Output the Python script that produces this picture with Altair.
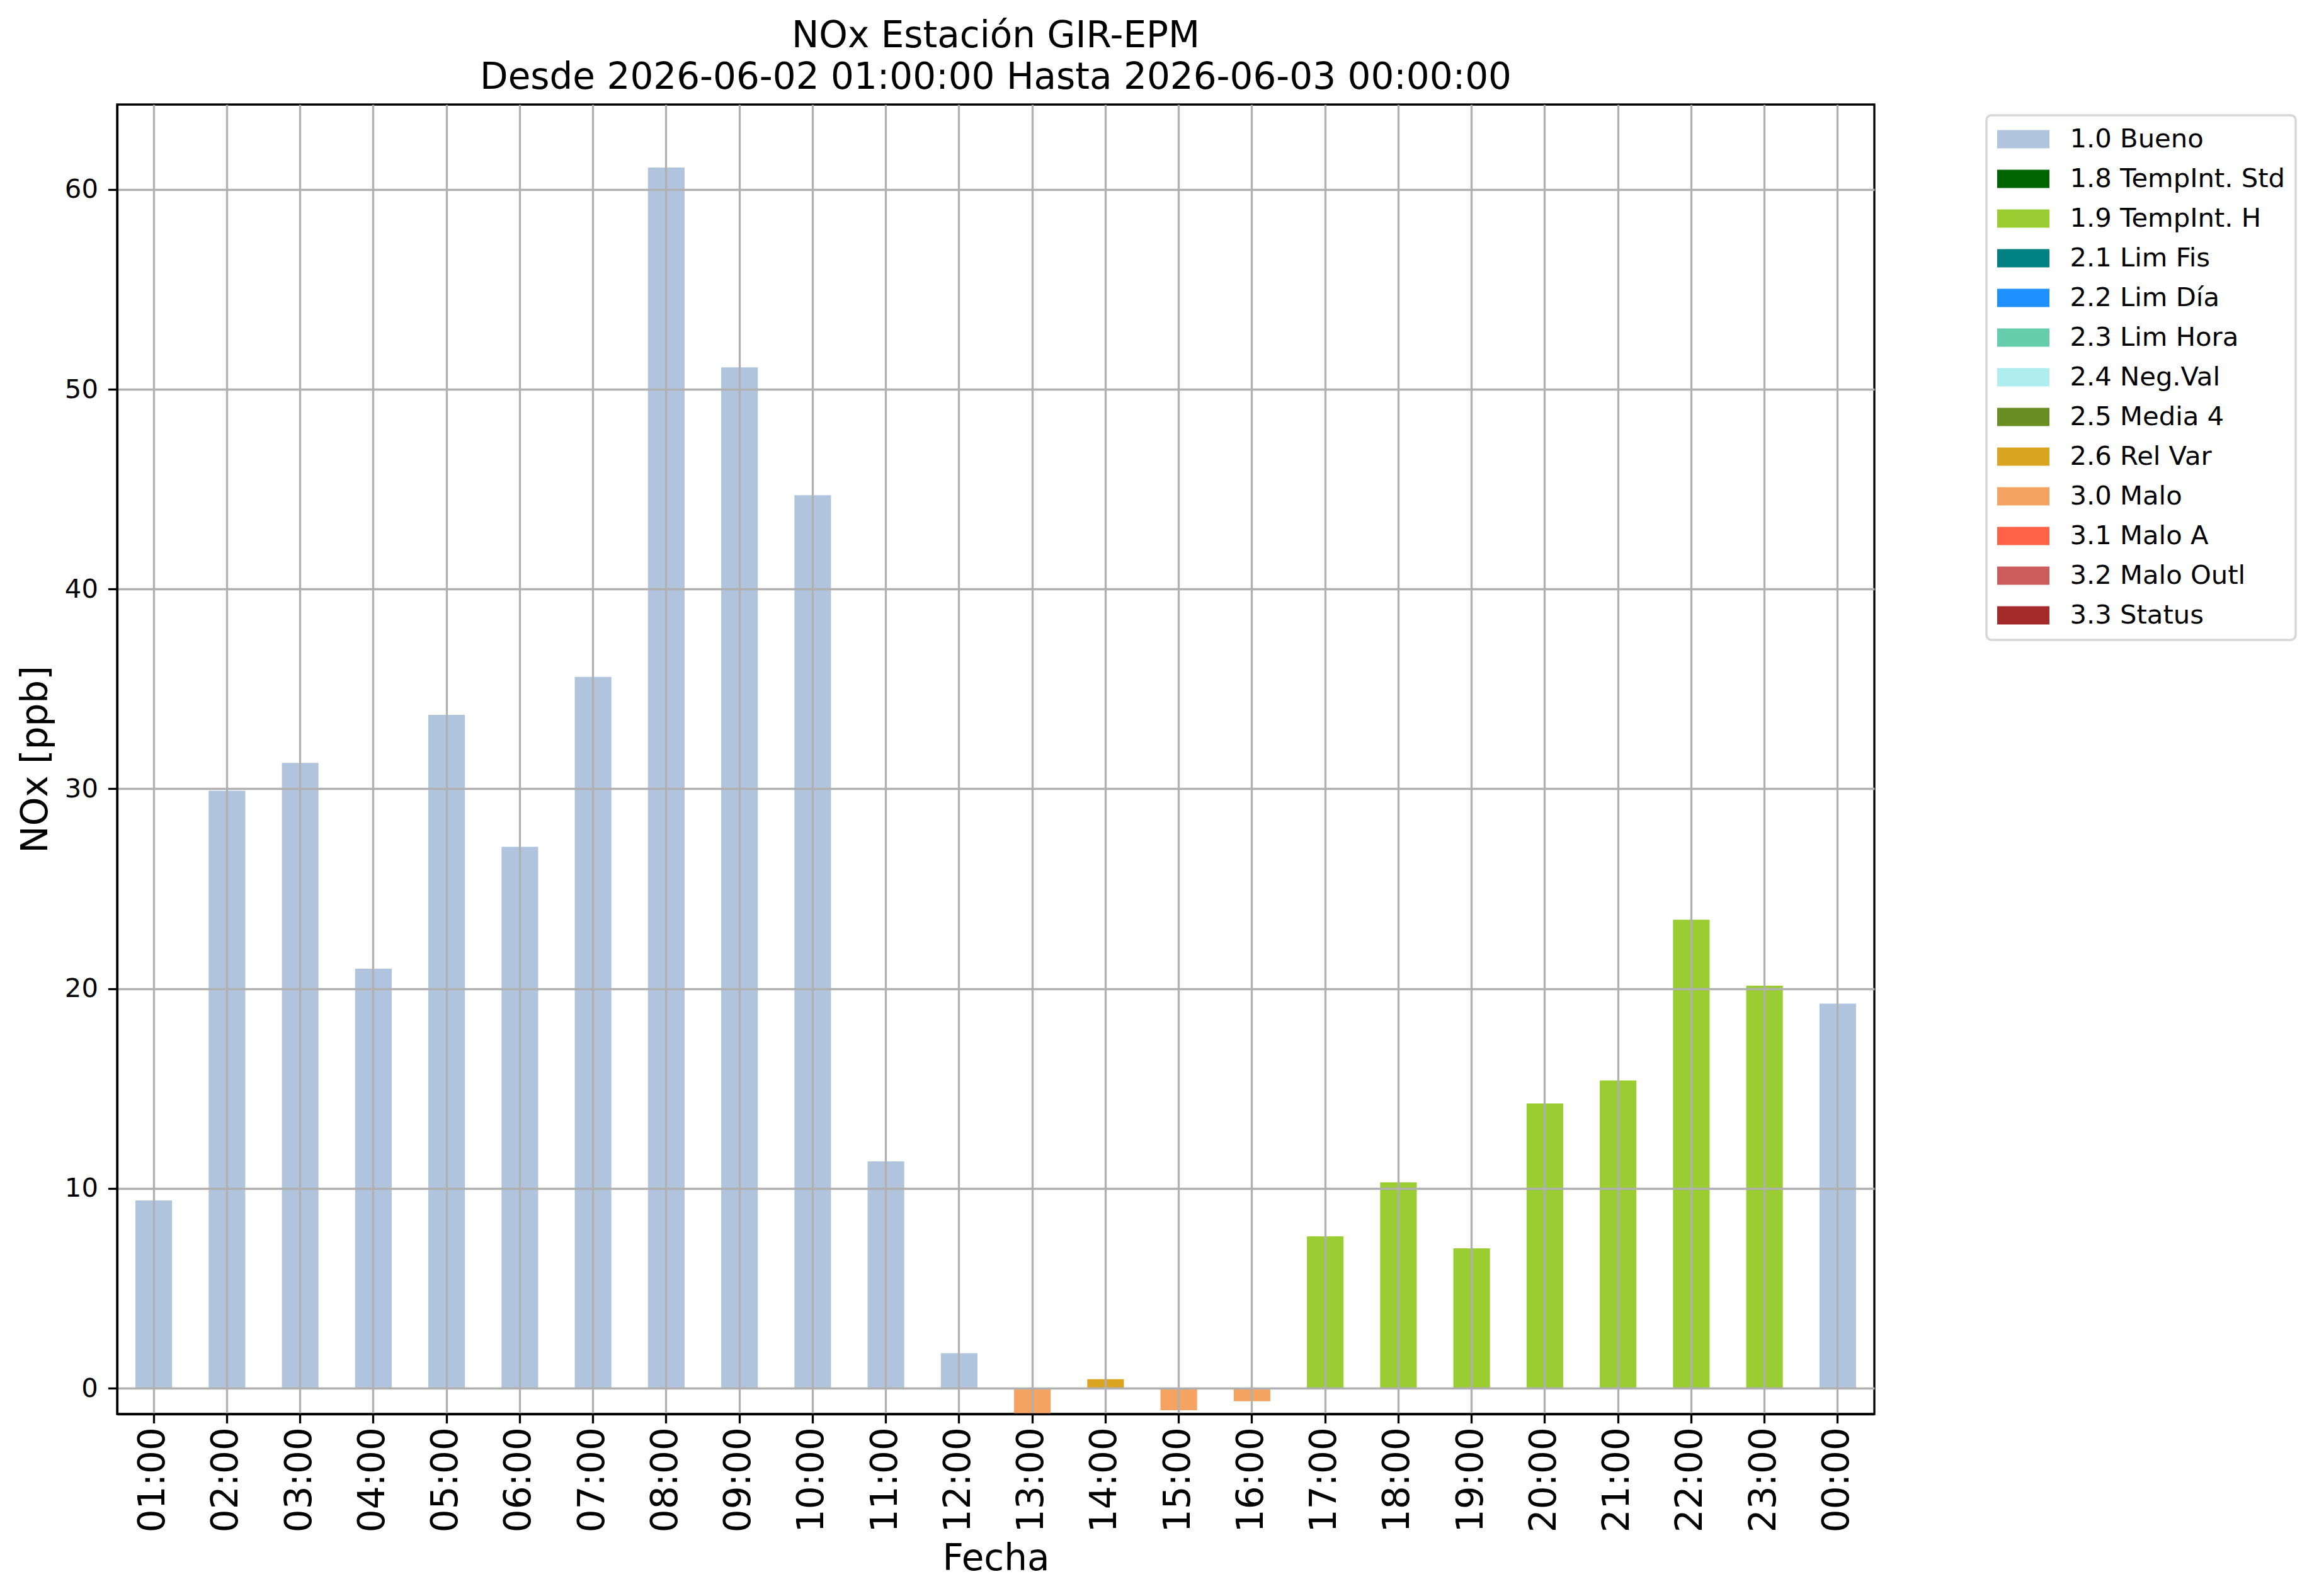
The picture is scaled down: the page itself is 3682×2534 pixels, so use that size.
import altair as alt
import pandas as pd

hours = ["01:00", "02:00", "03:00", "04:00", "05:00", "06:00", "07:00", "08:00",
         "09:00", "10:00", "11:00", "12:00", "13:00", "14:00", "15:00", "16:00",
         "17:00", "18:00", "19:00", "20:00", "21:00", "22:00", "23:00", "00:00"]
nox = [9.4, 29.9, 31.3, 21.0, 33.7, 27.1, 35.6, 61.1,
       51.1, 44.7, 11.35, 1.75, -1.4, 0.45, -1.1, -0.65,
       7.6, 10.3, 7.0, 14.25, 15.4, 23.45, 20.15, 19.25]
flags = ["1.0 Bueno"] * 12 + ["3.0 Malo", "2.6 Rel Var", "3.0 Malo", "3.0 Malo"] + \
        ["1.9 TempInt. H"] * 7 + ["1.0 Bueno"]

flag_names = ["1.0 Bueno", "1.8 TempInt. Std", "1.9 TempInt. H", "2.1 Lim Fis",
              "2.2 Lim Día", "2.3 Lim Hora", "2.4 Neg.Val", "2.5 Media 4",
              "2.6 Rel Var", "3.0 Malo", "3.1 Malo A", "3.2 Malo Outl", "3.3 Status"]
flag_colors = ["#B0C4DE", "#006400", "#9ACD32", "#008080", "#1E90FF", "#66CDAA",
               "#AFEEEE", "#6B8E23", "#DAA520", "#F4A460", "#FF6347", "#CD5C5C",
               "#A52A2A"]
y_ticks = [0, 10, 20, 30, 40, 50, 60]
title_lines = ["NOx Estación GIR-EPM",
               "Desde 2026-06-02 01:00:00 Hasta 2026-06-03 00:00:00"]

df = pd.DataFrame({"Fecha": hours, "NOx": nox, "Flag": flags})

FONT = "DejaVu Sans"
W, H = 2790, 2079

chart = alt.Chart(df).mark_bar(clip=True).encode(
    x=alt.X("Fecha:N", sort=hours,
            scale=alt.Scale(paddingInner=0.5, paddingOuter=0.25),
            axis=alt.Axis(title="Fecha", labelAngle=270, labelAlign="right",
                          labelBaseline="middle", labelFontSize=58, labelPadding=6,
                          labelOverlap=False, tickSize=14.6, titleFontSize=58,
                          titleFontWeight="normal", titleBaseline="alphabetic",
                          titleY=247, titleX=W / 2, grid=True, zindex=1)),
    y=alt.Y("NOx:Q", scale=alt.Scale(domain=[-1.29, 64.25], nice=False, zero=False),
            axis=alt.Axis(title="NOx [ppb]", values=y_ticks, labelFontSize=41.7,
                          labelPadding=16, tickSize=14.6, titleFontSize=58,
                          titleFontWeight="normal", titleAngle=270,
                          titleBaseline="alphabetic", titleAlign="center",
                          titleX=-112, titleY=H / 2, grid=True, zindex=1)),
    color=alt.Color("Flag:N",
                    scale=alt.Scale(domain=flag_names, range=flag_colors),
                    legend=alt.Legend(title=None, orient="none", legendX=2968, legendY=17)),
).properties(
    width=W, height=H,
    title=alt.TitleParams(text=title_lines, fontSize=58, font=FONT,
                          fontWeight="normal", anchor="middle", lineHeight=66,
                          baseline="bottom", offset=12, dy=57, color="black"),
    autosize=alt.AutoSizeParams(type="none"),
    padding={"left": 178, "top": 158, "right": 690, "bottom": 270},
).configure_view(
    stroke="black", strokeWidth=3.3
).configure_axis(
    labelFont=FONT, titleFont=FONT, labelColor="black", titleColor="black",
    tickColor="black", domainColor="black", tickWidth=3.3, domainWidth=3.3,
    gridColor="#b0b0b0", gridWidth=3.3
).configure_legend(
    labelFont=FONT, labelFontSize=41.7, labelColor="black", labelLimit=2000,
    symbolType="M-2,-0.7H2V0.7H-2Z", symbolSize=1722, symbolStrokeWidth=0,
    symbolOffset=20.5, symbolOpacity=1, labelOffset=53, rowPadding=20, padding=17,
    strokeColor="#d6d6d6", strokeWidth=3.5, cornerRadius=8, fillColor="white"
)

chart.save("out.html", embed_options={"renderer": "svg", "actions": False})
